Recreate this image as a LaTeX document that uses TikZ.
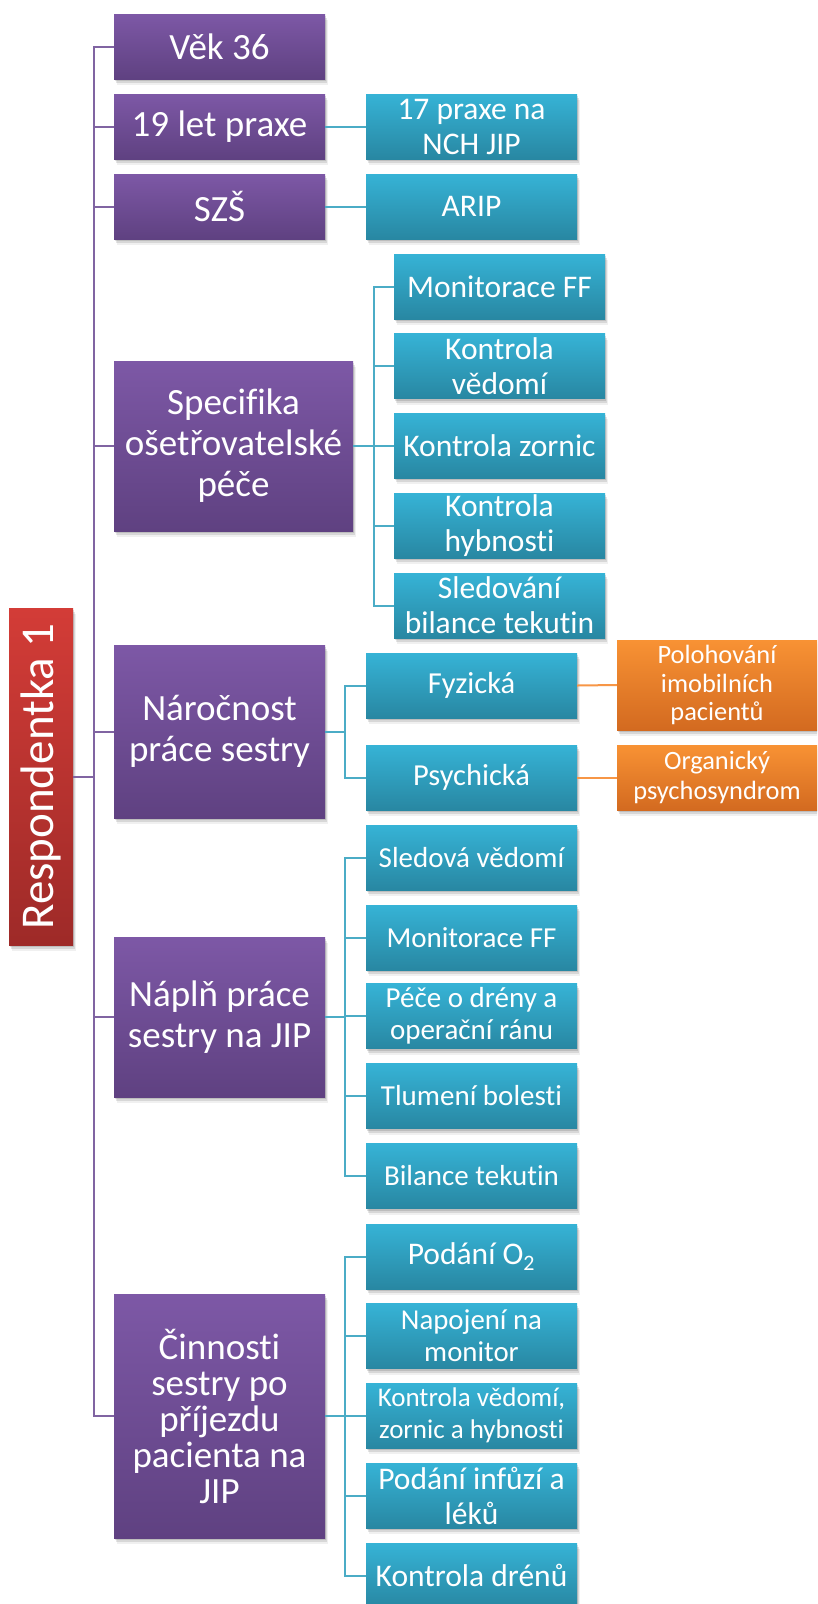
\documentclass[tikz,border=0pt]{standalone}
\usepackage{fontspec}
\setmainfont{Carlito}[Ligatures=NoCommon]
\usetikzlibrary{shadows}

\definecolor{purpleTop}{RGB}{125,88,166}
\definecolor{purpleBot}{RGB}{95,65,129}
\definecolor{aquaTop}{RGB}{54,179,214}
\definecolor{aquaBot}{RGB}{40,135,162}
\definecolor{orangeTop}{RGB}{248,146,52}
\definecolor{orangeBot}{RGB}{211,106,32}
\definecolor{redTop}{RGB}{211,60,55}
\definecolor{redBot}{RGB}{158,42,40}
\definecolor{purpleLine}{RGB}{128,100,162}
\definecolor{aquaLine}{RGB}{75,172,198}
\definecolor{orangeLine}{RGB}{247,150,70}

\tikzset{
  softshadow/.style={
    drop shadow={shadow xshift=1pt, shadow yshift=-2pt, opacity=0.12, fill=black},
    drop shadow={shadow xshift=2pt, shadow yshift=-4pt, opacity=0.10, fill=black},
    drop shadow={shadow xshift=3pt, shadow yshift=-6pt, opacity=0.06, fill=black}},
  card/.style={rectangle, inner sep=0pt, text=white, align=center, softshadow},
  rootbox/.style={card, top color=redTop, bottom color=redBot,
    font=\fontsize{47}{52}\selectfont},
  topicbox/.style={card, top color=purpleTop, bottom color=purpleBot,
    minimum width=211pt, font=\fontsize{37}{41}\selectfont},
  itembox/.style={card, top color=aquaTop, bottom color=aquaBot,
    minimum width=211pt, minimum height=65pt, font=\fontsize{31.5}{35}\selectfont},
  smallitem/.style={itembox, font=\fontsize{29}{32}\selectfont},
  notebox/.style={card, top color=orangeTop, bottom color=orangeBot,
    minimum width=200pt, font=\fontsize{26.4}{28.6}\selectfont},
  pline/.style={draw=purpleLine, line width=2pt},
  aline/.style={draw=aquaLine, line width=2pt},
  oline/.style={draw=orangeLine, line width=2pt}
}

\begin{document}
\begin{tikzpicture}[x=1pt, y=-1pt]
\useasboundingbox (0,0) rectangle (817,1604);
\fill[white] (0,0) rectangle (817,1604);
\clip (0,0) rectangle (817,1604);

% root
\node[rootbox, minimum width=337pt, minimum height=64pt, rotate=90] (resp) at (41,776.5) {Respondentka 1};

% first level
\node[topicbox, minimum height=65pt] (vek) at (219.5,46.5) {Věk 36};
\node[topicbox, minimum height=65pt] (praxe) at (219.5,126.5) {19 let praxe};
\node[topicbox, minimum height=65pt] (szs) at (219.5,206.5) {SZŠ};
\node[topicbox, minimum width=239pt, minimum height=170pt] (spec) at (233.5,446) {Specifika\\ošetřovatelské\\péče};
\node[topicbox, minimum height=173pt] (naroc) at (219.5,731.5) {Náročnost\\práce sestry};
\node[topicbox, minimum height=160pt] (napln) at (219.5,1017) {Náplň práce\\sestry na JIP};
\node[topicbox, minimum height=244pt, font=\fontsize{37}{36}\selectfont] (cinn) at (219.5,1416) {Činnosti\\sestry po\\příjezdu\\pacienta na\\JIP};

% second level
\node[itembox] (nch) at (471.5,126.5) {17 praxe na\\NCH JIP};
\node[itembox] (arip) at (471.5,206.5) {ARIP};

\node[itembox] (sp1) at (499.5,286.5) {Monitorace FF};
\node[itembox] (sp2) at (499.5,366) {Kontrola\\vědomí};
\node[itembox] (sp3) at (499.5,445.5) {Kontrola zornic};
\node[itembox] (sp4) at (499.5,525.5) {Kontrola\\hybnosti};
\node[itembox] (sp5) at (499.5,605.5) {Sledování\\bilance tekutin};

\node[itembox, font=\fontsize{30.5}{34}\selectfont] (fyz) at (471.5,685.5) {Fyzická};
\node[itembox, font=\fontsize{30.5}{34}\selectfont] (psy) at (471.5,777.5) {Psychická};

\node[smallitem] (np1) at (471.5,857.5) {Sledová vědomí};
\node[smallitem] (np2) at (471.5,937.5) {Monitorace FF};
\node[smallitem] (np3) at (471.5,1016) {Péče o drény a\\operační ránu};
\node[smallitem] (np4) at (471.5,1096) {Tlumení bolesti};
\node[smallitem] (np5) at (471.5,1176) {Bilance tekutin};

\node[itembox] (cn1) at (471.5,1256.5) {Podání O\textsubscript{2}};
\node[itembox, font=\fontsize{28.8}{31.7}\selectfont] (cn2) at (471.5,1336) {Napojení na\\monitor};
\node[itembox, font=\fontsize{27}{32}\selectfont] (cn3) at (471.5,1415.5) {Kontrola vědomí,\\zornic a hybnosti};
\node[itembox] (cn4) at (471.5,1495.5) {Podání infůzí a\\léků};
\node[itembox] (cn5) at (471.5,1575.5) {Kontrola drénů};

% third level
\node[notebox, minimum height=90pt] (polo) at (717,685) {Polohování\\imobilních\\pacientů};
\node[notebox, minimum height=65pt, font=\fontsize{26.4}{29.3}\selectfont] (org) at (717,777.5) {Organický\\psychosyndrom};

% connector rails
\coordinate (trunk) at (94,0);
\coordinate (specrail) at (374,0);
\coordinate (rail) at (345,0);

% root to first level
\draw[pline] (vek.west) -- (vek.west -| trunk) |- (cinn.west);
\foreach \n in {praxe,szs,spec,naroc,napln}
  \draw[pline] (\n.west) -- (\n.west -| trunk);
\draw[pline] (resp.south) -- (resp.south -| trunk);

% first level to second level
\draw[aline] (praxe.east) -- (nch.west);
\draw[aline] (szs.east) -- (arip.west);

\draw[aline] (sp1.west) -- (sp1.west -| specrail) |- (sp5.west);
\foreach \n in {sp2,sp3,sp4}
  \draw[aline] (\n.west) -- (\n.west -| specrail);
\draw[aline] (spec.east) -- (spec.east -| specrail);

\draw[aline] (fyz.west) -- (fyz.west -| rail) |- (psy.west);
\draw[aline] (naroc.east) -- (naroc.east -| rail);

\draw[aline] (np1.west) -- (np1.west -| rail) |- (np5.west);
\foreach \n in {np2,np3,np4}
  \draw[aline] (\n.west) -- (\n.west -| rail);
\draw[aline] (napln.east) -- (napln.east -| rail);

\draw[aline] (cn1.west) -- (cn1.west -| rail) |- (cn5.west);
\foreach \n in {cn2,cn3,cn4}
  \draw[aline] (\n.west) -- (\n.west -| rail);
\draw[aline] (cinn.east) -- (cinn.east -| rail);

% second level to third level
\draw[oline] (fyz.east) -- (polo.west);
\draw[oline] (psy.east) -- (org.west);
\end{tikzpicture}
\end{document}
